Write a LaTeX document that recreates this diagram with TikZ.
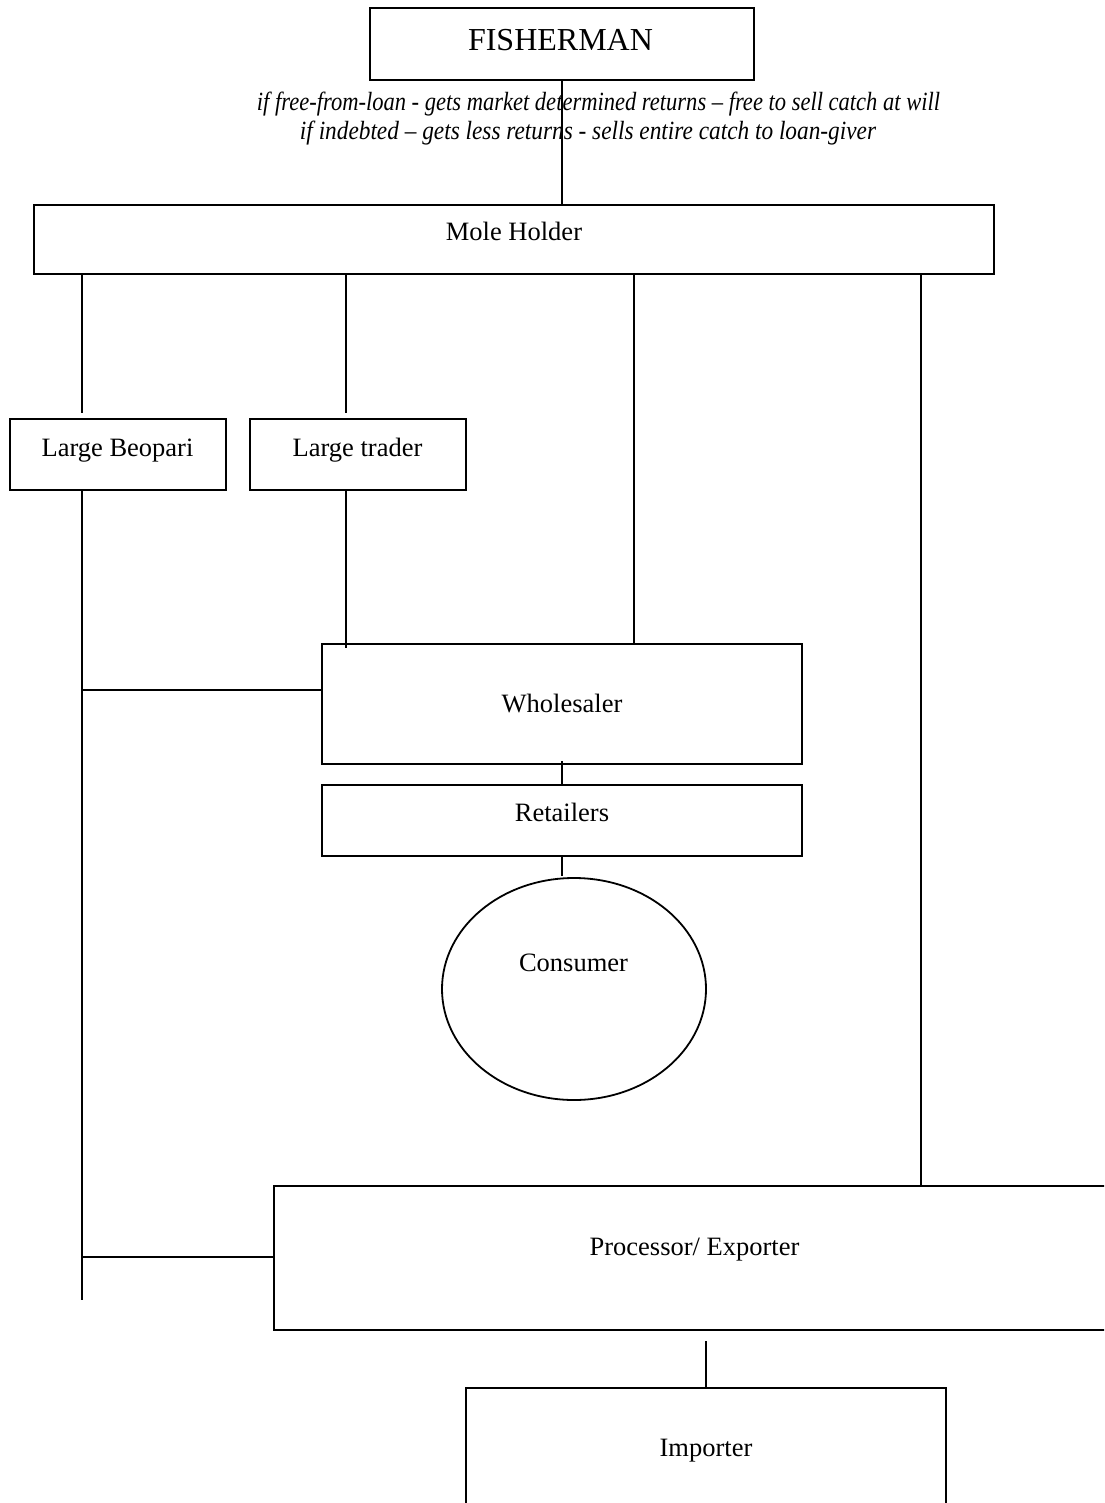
\documentclass[tikz,border=0pt]{standalone}
\usepackage{fontspec}
\setmainfont{Liberation Serif}
\usetikzlibrary{shapes.geometric}
\begin{document}
\begin{tikzpicture}[x=1pt,y=-1pt,
  box/.style={draw, line width=1.8pt, inner sep=0pt},
  oval/.style={draw, ellipse, line width=1.8pt, inner sep=0pt},
  lbl/.style={anchor=base, inner sep=0pt, font=\fontsize{26.5}{30}\selectfont},
  conn/.style={line width=1.8pt}]
\useasboundingbox (0,0) rectangle (1104,1503);
\clip (0,0) rectangle (1104,1503);
% boxes
\node[box, minimum width=384pt, minimum height=72pt] (fish) at (562,44) {};
\node[box, minimum width=960pt, minimum height=69pt] (mole) at (514,239.5) {};
\node[box, minimum width=216pt, minimum height=71pt] (beop) at (118,454.5) {};
\node[box, minimum width=216pt, minimum height=71pt] (trader) at (358,454.5) {};
\node[box, minimum width=480pt, minimum height=120pt] (whole) at (562,704) {};
\node[box, minimum width=480pt, minimum height=71pt] (retail) at (562,820.5) {};
\node[oval, minimum width=264pt, minimum height=222pt] (cons) at (574,989) {};
\node[box, minimum width=840pt, minimum height=144pt] (proc) at (694,1258) {};
\node[box, minimum width=480pt, minimum height=124pt] (imp) at (706,1450) {};
% texts
\node[lbl, font=\fontsize{32}{36}\selectfont] (fishT) at (560.5,51) {FISHERMAN};
\node[anchor=base, inner sep=0pt] (note1) at (598.5,111) {\resizebox{683pt}{18.5pt}{\itshape if free-from-loan - gets market determined returns -- free to sell catch at will}};
\node[anchor=base, inner sep=0pt] (note2) at (588,140) {\resizebox{576pt}{18.5pt}{\itshape if indebted -- gets less returns - sells entire catch to loan-giver}};
\node[lbl] (moleT) at (514,241) {Mole Holder};
\node[lbl] (beopT) at (117.5,456) {Large Beopari};
\node[lbl] (traderT) at (357.5,456) {Large trader};
\node[lbl] (wholeT) at (562,712) {Wholesaler};
\node[lbl] (retailT) at (562,821) {Retailers};
\node[lbl] (consT) at (573.5,971) {Consumer};
\node[lbl] (procT) at (694.5,1255) {Processor/ Exporter};
\node[lbl] (impT) at (706,1456) {Importer};
% connector end points
\coordinate (m1) at (82,274);
\coordinate (m1e) at (82,413);
\coordinate (m2) at (346,274);
\coordinate (m2e) at (346,413);
\coordinate (m3) at (634,274);
\coordinate (m3e) at (634,643);
\coordinate (m4) at (921,274);
\coordinate (m4e) at (921,1186);
\coordinate (b1) at (82,490);
\coordinate (b1e) at (82,1300);
\coordinate (bw) at (82,690);
\coordinate (bp) at (82,1257);
\coordinate (t1) at (346,490);
\coordinate (t1e) at (346,648);
\coordinate (pi) at (706,1341);
% connectors
\draw[conn] (fish.south) -- (mole.north -| fish.south);
\draw[conn] (m1) -- (m1e);
\draw[conn] (m2) -- (m2e);
\draw[conn] (m3) -- (m3e);
\draw[conn] (m4) -- (m4e);
\draw[conn] (b1) -- (b1e);
\draw[conn] (bw) -- (bw -| whole.west);
\draw[conn] (bp) -- (bp -| proc.west);
\draw[conn] (t1) -- (t1e);
\draw[conn] ([yshift=4pt]whole.south) -- (retail.north);
\draw[conn] (retail.south) -- ([yshift=1pt]retail.south |- cons.north);
\draw[conn] (pi) -- (pi |- imp.north);
\end{tikzpicture}
\end{document}
